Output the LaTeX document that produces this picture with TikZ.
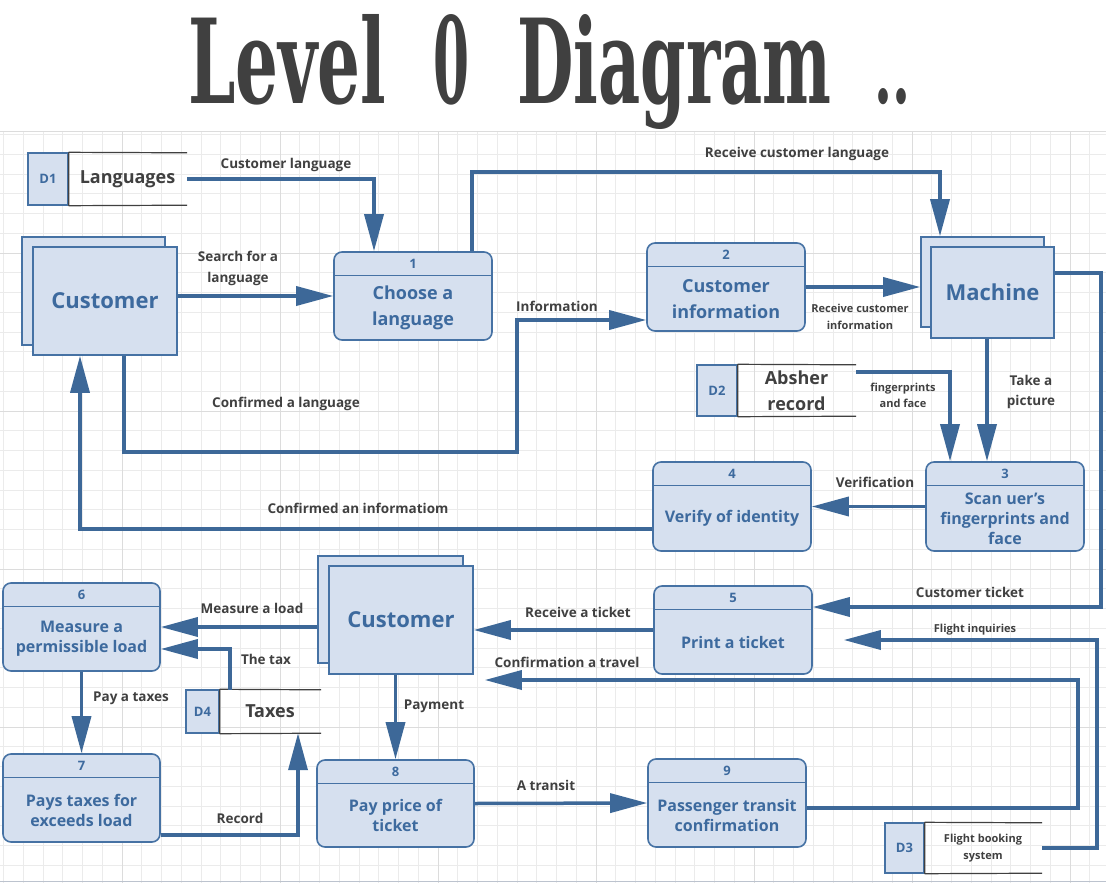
\documentclass[tikz,border=0pt]{standalone}
\usepackage{fontspec}
\setmainfont{Open Sans}
\newfontfamily\titlefont{DejaVu Serif}
\usetikzlibrary{arrows.meta}
\definecolor{flowc}{HTML}{3D6898}
\definecolor{boxfill}{HTML}{D6E0EF}
\definecolor{boxdraw}{HTML}{4672A4}
\definecolor{txtblue}{HTML}{3D6A9E}
\definecolor{lblgray}{HTML}{404040}
\definecolor{gridminor}{HTML}{EBEBEB}
\definecolor{gridmajor}{HTML}{DCDCDC}
\newcommand{\mkproc}[6]{%
  \node[procbox, minimum width=#4pt, minimum height=#5pt] (#1) at (#2,#3) {};
  \draw[draw=boxdraw, line width=1.4pt] ([yshift=-24.5pt]#1.north west) -- ([yshift=-24.5pt]#1.north east);
  \node[numtxt] at ([yshift=-12.5pt]#1.north) {#6};
}
\begin{document}
\begin{tikzpicture}[x=1pt,y=-1pt,
  flow/.style={draw=flowc, line width=3.5pt, -{Triangle[length=37pt,width=19pt]}},
  procbox/.style={draw=boxdraw, fill=boxfill, line width=1.6pt, rounded corners=8pt, inner sep=0pt},
  entbox/.style={draw=boxdraw, fill=boxfill, line width=1.6pt, inner sep=0pt},
  sq/.style={draw=boxdraw, fill=boxfill, line width=1.4pt, inner sep=0pt},
  store/.style={inner sep=0pt},
  storeline/.style={draw=lblgray, line width=1.2pt},
  numtxt/.style={text=txtblue, font=\bfseries\fontsize{13}{15}\selectfont},
  bigproc/.style={text=txtblue, font=\bfseries\fontsize{18}{26}\selectfont, align=center},
  proctxt/.style={text=txtblue, font=\bfseries\fontsize{16}{20}\selectfont, align=center},
  enttxt/.style={text=txtblue, font=\bfseries\fontsize{22}{26}\selectfont},
  lbl/.style={text=lblgray, font=\bfseries\fontsize{13.5}{20.5}\selectfont, align=center},
  slbl/.style={text=lblgray, font=\bfseries\fontsize{11}{16.5}\selectfont, align=center},
  stxt/.style={text=lblgray, font=\bfseries\fontsize{18}{26}\selectfont, align=center},
  dtxt/.style={text=txtblue, font=\bfseries\fontsize{13}{15}\selectfont},
  ttl/.style={anchor=base west, inner sep=0pt, text=lblgray},
]
\useasboundingbox (0,0) rectangle (1106,883);
\fill[white] (0,0) rectangle (1106,883);
% grid
\foreach \i in {0,...,55} \draw[gridminor, line width=0.7pt] ({3.5+\i*19.75},131) -- ({3.5+\i*19.75},883);
\foreach \j in {0,...,37} \draw[gridminor, line width=0.7pt] (0,{134.5+\j*19.75}) -- (1106,{134.5+\j*19.75});
\foreach \i in {0,...,6} \draw[gridmajor, line width=0.9pt] ({122+\i*158},131) -- ({122+\i*158},883);
\foreach \j in {253,411,569,727} \draw[gridmajor, line width=0.9pt] (0,\j) -- (1106,\j);
\draw[gridmajor, line width=0.9pt] (0,131) -- (1106,131);
\draw[boxfill!70!gray, line width=1pt] (0,881) -- (1106,881);

% title
\node[ttl] (title1) at (188,103) {\resizebox{198pt}{89pt}{\titlefont\bfseries Level}};
\node[ttl] (title2) at (433,103) {\resizebox{36pt}{89pt}{\titlefont\bfseries 0}};
\node[ttl] (title3) at (517,103) {\resizebox{314pt}{89pt}{\titlefont\bfseries Diagram}};
\node[ttl] (title4) at (874,103) {\resizebox{36pt}{15pt}{\titlefont\bfseries ..}};

% external entities
\node[entbox, minimum width=143pt, minimum height=108pt] (c1b) at (93.5,291) {};
\node[entbox, minimum width=144pt, minimum height=108pt, enttxt] (c1) at (105,301) {Customer};
\node[entbox, minimum width=123pt, minimum height=90pt] (mb) at (982.5,282) {};
\node[entbox, minimum width=123pt, minimum height=91pt, enttxt] (m) at (992.5,292.5) {Machine};
\node[entbox, minimum width=145pt, minimum height=107pt] (c2b) at (390.5,609.5) {};
\node[entbox, minimum width=144pt, minimum height=108pt, enttxt] (c2) at (401,620) {Customer};

% processes
\mkproc{p1}{413}{296}{158}{88}{1}
\node[bigproc] (p1t) at ([yshift=-12pt]p1.center) {Choose a\\language};
\mkproc{p2}{726}{287}{158}{88}{2}
\node[bigproc] (p2t) at ([yshift=-12pt]p2.center) {Customer\\information};
\mkproc{p3}{1005}{506.5}{158}{89}{3}
\node[proctxt] (p3t) at ([yshift=-12pt]p3.center) {Scan uer's\\fingerprints and\\face};
\mkproc{p4}{732}{506.5}{158}{89}{4}
\node[proctxt] (p4t) at ([yshift=-12pt]p4.center) {Verify of identity};
\mkproc{p5}{733}{630}{158}{88}{5}
\node[proctxt] (p5t) at ([yshift=-12pt]p5.center) {Print a ticket};
\mkproc{p6}{81.5}{627}{157}{88}{6}
\node[proctxt] (p6t) at ([yshift=-12pt]p6.center) {Measure a\\permissible load};
\mkproc{p7}{81.5}{798}{157}{88}{7}
\node[proctxt] (p7t) at ([yshift=-12pt]p7.center) {Pays taxes for\\exceeds load};
\mkproc{p8}{395.5}{803.5}{157}{87}{8}
\node[proctxt] (p8t) at ([yshift=-12pt]p8.center) {Pay price of\\ticket};
\mkproc{p9}{727}{803}{158}{88}{9}
\node[proctxt] (p9t) at ([yshift=-12pt]p9.center) {Passenger transit\\confirmation};

% data stores
\node[store, minimum width=159pt, minimum height=52pt] (d1) at (107.5,179) {};
\node[sq, minimum width=40pt, minimum height=52pt, dtxt] (d1s) at (48,179) {D1};
\draw[storeline] (d1s.north east) -- (d1.north east) (d1s.south east) -- (d1.south east) (d1s.north east) -- (d1s.south east);
\node[stxt] (d1t) at (127.5,179) {Languages};

\node[store, minimum width=159pt, minimum height=51pt] (d2) at (776.5,390.5) {};
\node[sq, minimum width=40pt, minimum height=51pt, dtxt] (d2s) at (717,390.5) {D2};
\draw[storeline] (d2s.north east) -- (d2.north east) (d2s.south east) -- (d2.south east) (d2s.north east) -- (d2s.south east);
\node[stxt] (d2t) at (796.5,390.5) {Absher\\record};

\node[store, minimum width=157pt, minimum height=50pt] (d3) at (963.5,848) {};
\node[sq, minimum width=39pt, minimum height=50pt, dtxt] (d3s) at (904.5,848) {D3};
\draw[storeline] (d3s.north east) -- (d3.north east) (d3s.south east) -- (d3.south east) (d3s.north east) -- (d3s.south east);
\node[slbl] (d3t) at (983,848) {Flight booking\\system};

\node[store, minimum width=135pt, minimum height=43pt] (d4) at (253.5,711.5) {};
\node[sq, minimum width=33pt, minimum height=43pt, dtxt] (d4s) at (202.5,711.5) {D4};
\draw[storeline] (d4s.north east) -- (d4.north east) (d4s.south east) -- (d4.south east) (d4s.north east) -- (d4s.south east);
\node[stxt] (d4t) at (270,711.5) {Taxes};

% free ends
\coordinate (fi) at ([xshift=31pt,yshift=-10pt]p5.east);
\coordinate (ct) at ([xshift=11pt,yshift=-60pt]c2.east);

% flows
\draw[flow] (d1.east) -| ([xshift=-39pt]p1.north);
\draw[flow] (c1.east |- p1.west) -- (p1.west);
\draw[flow] ([xshift=59pt]p1.north) -- ++(0,-79) -| ([xshift=-42.5pt]mb.north);
\draw[flow] (p2.east) -- (p2.east -| mb.west);
\draw[flow] ([xshift=19pt]c1.south) -- ++(0,96) -- ++(393,0) |- ([yshift=-33pt]p2.west);
\draw[flow] ([yshift=-22.5pt]p4.west) -| ([xshift=-25pt]c1.south);
\draw[flow] ([xshift=-5.5pt]m.south) -- ([xshift=-5.5pt]m.south |- p3.north);
\draw[flow] ([yshift=18.5pt]d2.east) -| ([xshift=-55pt]p3.north);
\draw[flow] (p3.west) -- (p4.east);
\draw[flow] ([yshift=19.5pt]m.east) -- ++(46,0) |- ([yshift=23pt]p5.east);
\draw[flow] (d3.east) -- ++(55,0) |- (fi);
\draw[flow] ([yshift=-5pt]p9.east) -- ++(271,0) |- (ct);
\draw[flow] (p5.west) -- (p5.west -| c2.east);
\draw[flow] (c2b.west |- p6.east) -- (p6.east);
\draw[flow] ([xshift=-23.5pt]d4.north) |- ([yshift=-22pt]p6.east);
\draw[flow] (p6.south) -- (p7.north);
\draw[flow] ([yshift=-37pt]p7.east) -| ([xshift=44.5pt]d4.south);
\draw[flow] (p8.north |- c2.south) -- (p8.north);
\draw[flow] (p8.east) -- (p9.west);

% labels
\node[lbl] at (286,165) {Customer language};
\node[lbl] at (238,268.5) {Search for a\\language};
\node[lbl] at (797,154) {Receive customer language};
\node[lbl] at (557,306) {Information};
\node[slbl] at (860,317) {Receive customer\\information};
\node[lbl] at (286,404) {Confirmed a language};
\node[lbl] at (358,508) {Confirmed an informatiom};
\node[slbl] at (903,395.5) {fingerprints\\and face};
\node[lbl] at (1031,392) {Take a\\picture};
\node[lbl] at (875,482) {Verification};
\node[lbl] at (970,592) {Customer ticket};
\node[slbl] at (975,630) {Flight inquiries};
\node[lbl] at (578,612) {Receive a ticket};
\node[lbl] at (567,662) {Confirmation a travel};
\node[lbl] at (252,608) {Measure a load};
\node[lbl] at (266,659) {The tax};
\node[lbl] at (131,698) {Pay a taxes};
\node[lbl] at (434,706) {Payment};
\node[lbl] at (240,818) {Record};
\node[lbl] at (546,785) {A transit};
\end{tikzpicture}
\end{document}
